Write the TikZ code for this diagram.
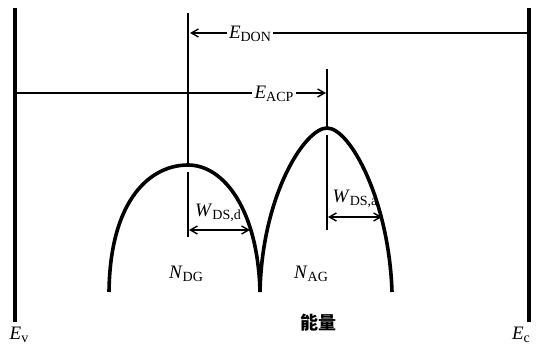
\documentclass[tikz,border=0pt]{standalone}
\usepackage{fontspec}
\setmainfont{Liberation Serif}
\newfontfamily\cjk{Noto Sans CJK SC}
\usetikzlibrary{arrows.meta}
\newcommand{\lab}[2]{\textit{#1}\raisebox{-0.3ex}{\fontsize{14}{15}\selectfont #2}}
\begin{document}
\begin{tikzpicture}[x=1pt,y=-1pt,
  bar/.style={line width=4pt},
  thin/.style={line width=1.4pt},
  band/.style={line width=3.6pt},
  arr/.style={thin,-{Straight Barb[length=7pt,width=8pt,line width=1.4pt]}},
  darr/.style={thin,{Straight Barb[length=7pt,width=8pt,line width=1.4pt]}-{Straight Barb[length=7pt,width=8pt,line width=1.4pt]}},
  lbl/.style={inner sep=0pt,font=\fontsize{19}{21}\selectfont}]
\useasboundingbox (0,0) rectangle (536,347);
% coordinates
\coordinate (vt) at (15,8); \coordinate (vb) at (15,322);
\coordinate (ct) at (529,8); \coordinate (cb) at (529,322);
\coordinate (dt) at (188,13); \coordinate (dp) at (188,165);
\coordinate (dl) at (188,172); \coordinate (db) at (188,237);
\coordinate (at) at (327,69); \coordinate (ap) at (327,128);
\coordinate (al) at (327,135); \coordinate (ab) at (327,230);
\coordinate (don) at (190,33); \coordinate (donr) at (529,33);
\coordinate (acpl) at (17,93); \coordinate (acp) at (326,93);
\coordinate (wd1) at (189,230); \coordinate (wd2) at (250,230);
\coordinate (wa1) at (328,217); \coordinate (wa2) at (382,217);
% bars
\draw[bar] (vt) -- (vb);
\draw[bar] (ct) -- (cb);
% verticals
\draw[thin] (dt) -- (dp);
\draw[thin] (dl) -- (db);
\draw[thin] (at) -- (ap);
\draw[thin] (al) -- (ab);
% labels
\node[lbl] (Edon) at (250,34) {\lab{E}{DON}};
\node[lbl] (Eacp) at (274,94) {\lab{E}{ACP}};
\node[lbl] (Wd) at (218,213) {\lab{W}{DS,d}};
\node[lbl] (Wa) at (355,199) {\lab{W}{DS,a}};
\node[lbl] (Nd) at (186,274) {\lab{N}{DG}};
\node[lbl] (Na) at (311,274) {\lab{N}{AG}};
\node[lbl] (Ev) at (19,335) {\lab{E}{v}};
\node[lbl] (Ec) at (521,335) {\lab{E}{c}};
\node[inner sep=0pt,font=\cjk\bfseries\fontsize{18}{19}\selectfont] (en) at (318,323) {能量};
% level lines
\draw[arr] (Edon.west) ++(-2,-1) -- (don);
\draw[thin] (Edon.east) ++(2,-1) -- (donr);
\draw[thin] (acpl) -- ([xshift=-2pt,yshift=1pt]Eacp.west);
\draw[arr] ([xshift=2pt,yshift=1pt]Eacp.east) -- (acp);
\draw[darr] (wd1) -- (wd2);
\draw[darr] (wa1) -- (wa2);
% bands
\draw[band] (109,292) .. controls (110,200) and (150,165) .. (188,165)
  .. controls (224,165) and (258,210) .. (260,292);
\draw[band] (260,292) .. controls (262,195) and (305,128) .. (327,128)
  .. controls (350,128) and (389,200) .. (392,292);
\end{tikzpicture}
\end{document}
